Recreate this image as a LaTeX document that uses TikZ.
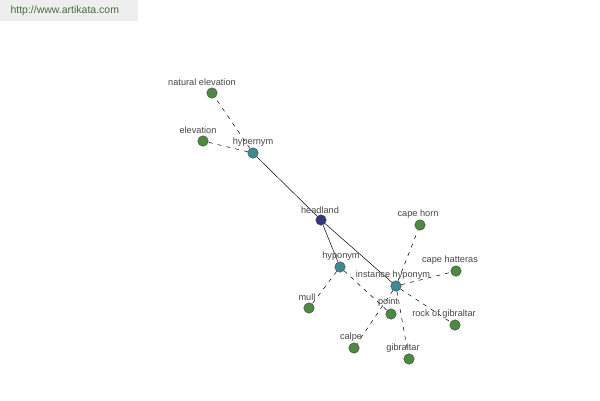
\documentclass[tikz,border=0pt]{standalone}
\usepackage{fontspec}
\setmainfont{Liberation Sans}
\usetikzlibrary{backgrounds}
\definecolor{leafgreen}{RGB}{76,138,62}
\definecolor{relteal}{RGB}{58,140,146}
\definecolor{rootblue}{RGB}{52,54,130}
\definecolor{labgray}{RGB}{70,70,70}
\definecolor{bannergray}{RGB}{238,238,238}
\definecolor{bannertext}{RGB}{70,110,60}
\begin{document}
\begin{tikzpicture}[x=1pt,y=-1pt,
  dot/.style={circle,draw=black!75,inner sep=0pt,minimum size=10.5pt},
  leaf/.style={dot,fill=leafgreen},
  rel/.style={dot,fill=relteal},
  lab/.style={font=\fontsize{9.2}{10}\selectfont,text=labgray,inner sep=0pt},
  solidlink/.style={black,line width=0.5pt},
  dashlink/.style={black,line width=0.5pt,dash pattern=on 4pt off 5pt}]

\useasboundingbox (0,0) rectangle (600,400);

% banner
\fill[bannergray] (0,0) rectangle (138,21);
\node[font=\fontsize{10.5}{11}\selectfont,text=bannertext,anchor=west] (site) at (7,11) {http://www.artikata.com};

% dots
\node[dot,fill=rootblue] (headland) at (321,220) {};
\node[rel] (hypernym) at (253,153) {};
\node[rel] (hyponym) at (340,267) {};
\node[rel] (instance) at (396,286) {};

\node[leaf] (natural) at (212,93) {};
\node[leaf] (elevation) at (203,141) {};
\node[leaf] (capehorn) at (420,225) {};
\node[leaf] (hatteras) at (456,271) {};
\node[leaf] (mull) at (309,308) {};
\node[leaf] (point) at (391,314) {};
\node[leaf] (rock) at (455,325) {};
\node[leaf] (calpe) at (354,348) {};
\node[leaf] (gibraltar) at (409,359) {};

% links
\begin{scope}[on background layer]
\draw[solidlink] (headland) -- (hypernym);
\draw[solidlink] (headland) -- (hyponym);
\draw[solidlink] (headland) -- (instance);

\draw[dashlink] (hypernym) -- (natural);
\draw[dashlink] (hypernym) -- (elevation);
\draw[dashlink] (hyponym) -- (mull);
\draw[dashlink] (hyponym) -- (point);
\draw[dashlink] (instance) -- (capehorn);
\draw[dashlink] (instance) -- (hatteras);
\draw[dashlink] (instance) -- (rock);
\draw[dashlink] (instance) -- (gibraltar);
\draw[dashlink] (instance) -- (calpe);
\end{scope}

% labels
\node[lab] (l-natural) at (202,82) {natural elevation};
\node[lab] (l-elevation) at (198,130) {elevation};
\node[lab] (l-hypernym) at (253,142) {hypernym};
\node[lab] (l-headland) at (320,210) {headland};
\node[lab] (l-capehorn) at (418,214) {cape horn};
\node[lab] (l-hyponym) at (341,256) {hyponym};
\node[lab] (l-instance) at (393,275) {instance hyponym};
\node[lab] (l-hatteras) at (450,260) {cape hatteras};
\node[lab] (l-mull) at (307,297) {mull};
\node[lab] (l-point) at (388,302) {point};
\node[lab] (l-rock) at (444,314) {rock of gibraltar};
\node[lab] (l-calpe) at (351,337) {calpe};
\node[lab] (l-gibraltar) at (403,348) {gibraltar};

\end{tikzpicture}
\end{document}
